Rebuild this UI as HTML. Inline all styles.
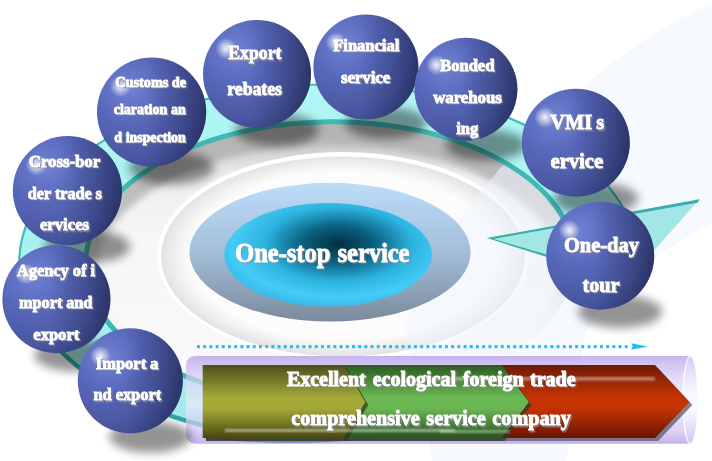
<!DOCTYPE html>
<html><head><meta charset="utf-8"><style>
html,body{margin:0;padding:0;background:#fff;}
svg{display:block;will-change:transform;}
text{font-family:"Liberation Serif",serif;font-weight:bold;fill:#fff;}
.tx{will-change:transform;}
text{stroke:#fff;stroke-width:0.85px;}
text.sh{fill:#8c8c94;stroke:#8c8c94;opacity:.75;}
</style></head><body>
<svg width="712" height="461" viewBox="0 0 712 461">
<defs>
 <radialGradient id="sph" cx="0.3" cy="0.28" r="0.9">
  <stop offset="0" stop-color="#7080d2"/>
  <stop offset="0.35" stop-color="#5868ba"/>
  <stop offset="0.7" stop-color="#4a58a2"/>
  <stop offset="0.9" stop-color="#3c4888"/>
  <stop offset="1" stop-color="#36427c"/>
 </radialGradient>
 <linearGradient id="sphd" x1="0" y1="0" x2="1" y2="0">
  <stop offset="0.45" stop-color="#141a40" stop-opacity="0"/>
  <stop offset="0.75" stop-color="#141a40" stop-opacity="0.22"/>
  <stop offset="1" stop-color="#141a40" stop-opacity="0.5"/>
 </linearGradient>
 <radialGradient id="hl" cx="0.5" cy="0.5" r="0.5">
  <stop offset="0" stop-color="#fff" stop-opacity="0.9"/>
  <stop offset="0.35" stop-color="#fff" stop-opacity="0.6"/>
  <stop offset="1" stop-color="#fff" stop-opacity="0"/>
 </radialGradient>
 <filter id="blur6" x="-50%" y="-50%" width="200%" height="200%"><feGaussianBlur stdDeviation="6"/></filter>
 <filter id="blur5" x="-50%" y="-50%" width="200%" height="200%"><feGaussianBlur stdDeviation="5"/></filter>
 <filter id="blur3" x="-50%" y="-50%" width="200%" height="200%"><feGaussianBlur stdDeviation="3"/></filter>
 <filter id="blur1" x="-20%" y="-20%" width="140%" height="140%"><feGaussianBlur stdDeviation="1.2"/></filter>
 <linearGradient id="outerEl" x1="0" y1="0" x2="0" y2="1">
  <stop offset="0" stop-color="#bcdcfa"/>
  <stop offset="0.5" stop-color="#a3bed8"/>
  <stop offset="1" stop-color="#7b8a9c"/>
 </linearGradient>
 <radialGradient id="innerEl" cx="0.55" cy="0.4" r="0.62">
  <stop offset="0" stop-color="#02303f"/>
  <stop offset="0.28" stop-color="#0b5f7f"/>
  <stop offset="0.58" stop-color="#2cb4e0"/>
  <stop offset="0.82" stop-color="#44ccf6"/>
  <stop offset="1" stop-color="#36b8e8"/>
 </radialGradient>
 <linearGradient id="olive" x1="0" y1="0" x2="0" y2="1">
  <stop offset="0" stop-color="#4c4e1c"/>
  <stop offset="0.45" stop-color="#a4aa3a"/>
  <stop offset="0.6" stop-color="#a3a838"/>
  <stop offset="1" stop-color="#48480e"/>
 </linearGradient>
 <linearGradient id="green" x1="0" y1="0" x2="0" y2="1">
  <stop offset="0" stop-color="#2c5a22"/>
  <stop offset="0.45" stop-color="#6cba54"/>
  <stop offset="0.6" stop-color="#6ab652"/>
  <stop offset="1" stop-color="#2a5420"/>
 </linearGradient>
 <linearGradient id="red" x1="0" y1="0" x2="0" y2="1">
  <stop offset="0" stop-color="#6c1a06"/>
  <stop offset="0.45" stop-color="#c83402"/>
  <stop offset="0.6" stop-color="#c43202"/>
  <stop offset="1" stop-color="#6a1404"/>
 </linearGradient>
 <linearGradient id="tube" x1="0" y1="0" x2="0" y2="1">
  <stop offset="0" stop-color="#b094e7"/>
  <stop offset="0.1" stop-color="#c2aeec"/>
  <stop offset="0.3" stop-color="#ded6f5"/>
  <stop offset="0.55" stop-color="#efecfb"/>
  <stop offset="0.85" stop-color="#cebff1"/>
  <stop offset="1" stop-color="#ae91e4"/>
 </linearGradient>
 <linearGradient id="capg" x1="0" y1="0" x2="0" y2="1">
  <stop offset="0" stop-color="#d8ccf4"/>
  <stop offset="0.4" stop-color="#f8f6fe"/>
  <stop offset="0.6" stop-color="#fbfaff"/>
  <stop offset="1" stop-color="#d4c6f2"/>
 </linearGradient>
 <linearGradient id="bandfill" x1="0" y1="0" x2="0" y2="1">
  <stop offset="0" stop-color="#b0f6f4"/>
  <stop offset="1" stop-color="#a0ebe8"/>
 </linearGradient>
 <clipPath id="ringclip">
  <path d="M0 0 H712 V440 H0 Z"/>
 </clipPath>
</defs>

<defs>
 <linearGradient id="plateg" gradientUnits="userSpaceOnUse" x1="0" y1="120" x2="0" y2="400">
  <stop offset="0" stop-color="#b8b8b8"/>
  <stop offset="0.1" stop-color="#d0d0d0"/>
  <stop offset="0.2" stop-color="#eeeeee"/>
  <stop offset="0.4" stop-color="#f6f6f6"/>
  <stop offset="1" stop-color="#fafafa"/>
 </linearGradient>
 <linearGradient id="shmask" gradientUnits="userSpaceOnUse" x1="0" y1="120" x2="0" y2="330">
  <stop offset="0" stop-color="#fff"/>
  <stop offset="0.45" stop-color="#fff" stop-opacity="0.8"/>
  <stop offset="1" stop-color="#fff" stop-opacity="0"/>
 </linearGradient>
 <mask id="shm" maskUnits="userSpaceOnUse" x="0" y="0" width="712" height="461"><rect x="0" y="0" width="712" height="461" fill="url(#shmask)"/></mask>
 <radialGradient id="bevelg" gradientUnits="userSpaceOnUse" cx="0" cy="0" r="1" gradientTransform="translate(343 256) scale(182 100)">
  <stop offset="0.84" stop-color="#fcfcfc"/>
  <stop offset="0.93" stop-color="#efefef"/>
  <stop offset="1" stop-color="#e2e2e2"/>
 </radialGradient>
</defs>
<ellipse cx="330.1" cy="262.0" rx="244.5" ry="140.3" transform="rotate(-0.66 330.1 262.0)" fill="url(#plateg)"/>
<clipPath id="inclip"><ellipse cx="330.1" cy="262.0" rx="244.5" ry="140.3" transform="rotate(-0.66 330.1 262.0)" /></clipPath>
<g clip-path="url(#inclip)" mask="url(#shm)"><g filter="url(#blur3)"><ellipse cx="327.1" cy="272.0" rx="244.5" ry="140.3" transform="rotate(-0.66 327.1 272.0)" fill="none" stroke="#b4b4b4" stroke-width="26"/></g></g>
<ellipse cx="343" cy="256" rx="186" ry="104" fill="#ffffff"/>
<ellipse cx="343" cy="256.5" rx="182" ry="100" fill="url(#bevelg)"/>
<path d="M712 4 C670 20 620 55 584 86 C540 125 500 165 470 205 C440 245 415 290 405 330 L433 461 L566 461 L585 335 C600 300 640 260 712 224 Z" fill="#eef4fb" opacity="0.55"/>
<clipPath id="bandclip"><path d="M0 0 H712 V199 L487 238 L470 300 L380 300 L380 441 L0 441 Z"/></clipPath>
<g clip-path="url(#bandclip)">
<path fill-rule="evenodd" fill="url(#bandfill)" d="M638.4 263.3 L638.2 269.5 L637.6 275.8 L636.7 282.0 L635.4 288.2 L633.7 294.3 L631.6 300.5 L629.2 306.6 L626.4 312.6 L623.2 318.6 L619.7 324.5 L615.9 330.3 L611.6 336.0 L607.1 341.7 L602.2 347.2 L596.9 352.7 L591.4 358.0 L585.5 363.3 L579.3 368.4 L572.8 373.4 L566.0 378.2 L558.9 382.9 L551.5 387.5 L543.9 391.9 L536.0 396.2 L527.8 400.3 L519.4 404.2 L510.8 408.0 L501.9 411.5 L492.9 414.9 L483.6 418.1 L474.1 421.2 L464.5 424.0 L454.7 426.6 L444.8 429.1 L434.7 431.3 L424.5 433.3 L414.1 435.2 L403.7 436.8 L393.2 438.2 L382.6 439.4 L371.9 440.4 L361.2 441.1 L350.4 441.7 L339.6 442.0 L328.8 442.1 L318.0 442.0 L307.2 441.7 L296.4 441.1 L285.7 440.4 L275.0 439.4 L264.4 438.2 L253.9 436.8 L243.5 435.2 L233.1 433.3 L222.9 431.3 L212.8 429.1 L202.9 426.6 L193.1 424.0 L183.5 421.2 L174.0 418.1 L164.7 414.9 L155.7 411.5 L146.8 408.0 L138.2 404.2 L129.8 400.3 L121.6 396.2 L113.7 391.9 L106.1 387.5 L98.7 382.9 L91.6 378.2 L84.8 373.4 L78.3 368.4 L72.1 363.3 L66.2 358.0 L60.7 352.7 L55.4 347.2 L50.5 341.7 L46.0 336.0 L41.7 330.3 L37.9 324.5 L34.4 318.6 L31.2 312.6 L28.4 306.6 L26.0 300.5 L23.9 294.3 L22.2 288.2 L20.9 282.0 L20.0 275.8 L19.4 269.5 L19.2 263.3 L19.4 257.1 L20.0 250.8 L20.9 244.6 L22.2 238.4 L23.9 232.3 L26.0 226.1 L28.4 220.0 L31.2 214.0 L34.4 208.0 L37.9 202.1 L41.7 196.3 L46.0 190.6 L50.5 184.9 L55.4 179.4 L60.7 173.9 L66.2 168.6 L72.1 163.3 L78.3 158.2 L84.8 153.2 L91.6 148.4 L98.7 143.7 L106.1 139.1 L113.7 134.7 L121.6 130.4 L129.8 126.3 L138.2 122.4 L146.8 118.6 L155.7 115.1 L164.7 111.7 L174.0 108.5 L183.5 105.4 L193.1 102.6 L202.9 100.0 L212.8 97.5 L222.9 95.3 L233.1 93.3 L243.5 91.4 L253.9 89.8 L264.4 88.4 L275.0 87.2 L285.7 86.2 L296.4 85.5 L307.2 84.9 L318.0 84.6 L328.8 84.5 L339.6 84.6 L350.4 84.9 L361.2 85.5 L371.9 86.2 L382.6 87.2 L393.2 88.4 L403.7 89.8 L414.1 91.4 L424.5 93.3 L434.7 95.3 L444.8 97.5 L454.7 100.0 L464.5 102.6 L474.1 105.4 L483.6 108.5 L492.9 111.7 L501.9 115.1 L510.8 118.6 L519.4 122.4 L527.8 126.3 L536.0 130.4 L543.9 134.7 L551.5 139.1 L558.9 143.7 L566.0 148.4 L572.8 153.2 L579.3 158.2 L585.5 163.3 L591.4 168.6 L596.9 173.9 L602.2 179.4 L607.1 184.9 L611.6 190.6 L615.9 196.3 L619.7 202.1 L623.2 208.0 L626.4 214.0 L629.2 220.0 L631.6 226.1 L633.7 232.3 L635.4 238.4 L636.7 244.6 L637.6 250.8 L638.2 257.1 Z M574.6 259.2 L574.5 264.1 L574.1 269.0 L573.4 273.9 L572.4 278.7 L571.2 283.6 L569.6 288.4 L567.7 293.2 L565.6 298.0 L563.1 302.7 L560.4 307.3 L557.4 311.9 L554.1 316.5 L550.5 321.0 L546.7 325.4 L542.6 329.7 L538.3 334.0 L533.7 338.1 L528.8 342.2 L523.8 346.2 L518.4 350.0 L512.9 353.8 L507.1 357.4 L501.1 361.0 L494.9 364.4 L488.5 367.7 L481.9 370.8 L475.1 373.8 L468.2 376.7 L461.0 379.5 L453.7 382.1 L446.3 384.5 L438.7 386.9 L431.0 389.0 L423.2 391.0 L415.2 392.9 L407.2 394.6 L399.0 396.1 L390.8 397.4 L382.5 398.6 L374.1 399.7 L365.7 400.5 L357.3 401.2 L348.8 401.8 L340.2 402.1 L331.7 402.3 L323.2 402.3 L314.7 402.1 L306.2 401.8 L297.7 401.3 L289.2 400.6 L280.8 399.8 L272.5 398.8 L264.3 397.6 L256.1 396.3 L248.0 394.8 L240.0 393.1 L232.1 391.3 L224.4 389.3 L216.7 387.2 L209.3 384.9 L201.9 382.5 L194.7 379.9 L187.7 377.2 L180.9 374.3 L174.2 371.3 L167.7 368.1 L161.4 364.9 L155.4 361.5 L149.5 358.0 L143.9 354.3 L138.4 350.6 L133.3 346.7 L128.3 342.8 L123.6 338.7 L119.2 334.6 L115.0 330.3 L111.1 326.0 L107.4 321.6 L104.0 317.2 L100.9 312.6 L98.1 308.0 L95.5 303.4 L93.3 298.7 L91.3 293.9 L89.6 289.1 L88.2 284.3 L87.1 279.5 L86.3 274.6 L85.8 269.7 L85.6 264.8 L85.7 259.9 L86.1 255.0 L86.8 250.1 L87.8 245.3 L89.0 240.4 L90.6 235.6 L92.5 230.8 L94.6 226.0 L97.1 221.3 L99.8 216.7 L102.8 212.1 L106.1 207.5 L109.7 203.0 L113.5 198.6 L117.6 194.3 L121.9 190.0 L126.5 185.9 L131.4 181.8 L136.4 177.8 L141.8 174.0 L147.3 170.2 L153.1 166.6 L159.1 163.0 L165.3 159.6 L171.7 156.3 L178.3 153.2 L185.1 150.2 L192.0 147.3 L199.2 144.5 L206.5 141.9 L213.9 139.5 L221.5 137.1 L229.2 135.0 L237.0 133.0 L245.0 131.1 L253.0 129.4 L261.2 127.9 L269.4 126.6 L277.7 125.4 L286.1 124.3 L294.5 123.5 L302.9 122.8 L311.4 122.2 L320.0 121.9 L328.5 121.7 L337.0 121.7 L345.5 121.9 L354.0 122.2 L362.5 122.7 L371.0 123.4 L379.4 124.2 L387.7 125.2 L395.9 126.4 L404.1 127.7 L412.2 129.2 L420.2 130.9 L428.1 132.7 L435.8 134.7 L443.5 136.8 L450.9 139.1 L458.3 141.5 L465.5 144.1 L472.5 146.8 L479.3 149.7 L486.0 152.7 L492.5 155.9 L498.8 159.1 L504.8 162.5 L510.7 166.0 L516.3 169.7 L521.8 173.4 L526.9 177.3 L531.9 181.2 L536.6 185.3 L541.0 189.4 L545.2 193.7 L549.1 198.0 L552.8 202.4 L556.2 206.8 L559.3 211.4 L562.1 216.0 L564.7 220.6 L566.9 225.3 L568.9 230.1 L570.6 234.9 L572.0 239.7 L573.1 244.5 L573.9 249.4 L574.4 254.3 Z"/>
<ellipse cx="328.8" cy="263.3" rx="309.6" ry="178.8" transform="rotate(0.0 328.8 263.3)" fill="none" stroke="#3fbcb8" stroke-width="2.2"/>
<clipPath id="lowclip"><rect x="0" y="300" width="712" height="161"/></clipPath>
<g clip-path="url(#lowclip)"><ellipse cx="328.8" cy="263.3" rx="308.0" ry="177.20000000000002" transform="rotate(0.0 328.8 263.3)" fill="none" stroke="#2fa8a0" stroke-width="3.5"/></g>
<ellipse cx="330.1" cy="262.0" rx="244.5" ry="140.3" transform="rotate(-0.66 330.1 262.0)" fill="none" stroke="#3db8b2" stroke-width="5"/>
</g>
<path d="M487 238 L699.6 199.2 L626 282 Z" fill="#a3e6e6"/>
<path d="M487 238 L699.6 199.2 L697.5 202.8 L493 239 Z" fill="#3aaea8"/>
<path d="M487 238 L492 238.5 L630 279 L626 282 Z" fill="#3aaea8"/>
<ellipse cx="330" cy="252.2" rx="140.6" ry="69.4" fill="url(#outerEl)"/>
<ellipse cx="328.1" cy="254.8" rx="103.8" ry="51.8" fill="url(#innerEl)"/>
<text x="236.49" y="262.90" font-size="27" textLength="95.14" lengthAdjust="spacingAndGlyphs" class="st sh">One-stop</text><text x="338.81" y="262.90" font-size="27" textLength="71.98" lengthAdjust="spacingAndGlyphs" class="st sh">service</text><text x="235.19" y="261.60" font-size="27" textLength="95.14" lengthAdjust="spacingAndGlyphs" class="st">One-stop</text><text x="337.51" y="261.60" font-size="27" textLength="71.98" lengthAdjust="spacingAndGlyphs" class="st">service</text>
<g fill="#1fbdf4"><rect x="197.0" y="345.1" width="2.9" height="3.1"/><rect x="203.2" y="345.1" width="2.9" height="3.1"/><rect x="209.4" y="345.1" width="2.9" height="3.1"/><rect x="215.6" y="345.1" width="2.9" height="3.1"/><rect x="221.8" y="345.1" width="2.9" height="3.1"/><rect x="228.0" y="345.1" width="2.9" height="3.1"/><rect x="234.2" y="345.1" width="2.9" height="3.1"/><rect x="240.4" y="345.1" width="2.9" height="3.1"/><rect x="246.6" y="345.1" width="2.9" height="3.1"/><rect x="252.8" y="345.1" width="2.9" height="3.1"/><rect x="259.0" y="345.1" width="2.9" height="3.1"/><rect x="265.2" y="345.1" width="2.9" height="3.1"/><rect x="271.4" y="345.1" width="2.9" height="3.1"/><rect x="277.6" y="345.1" width="2.9" height="3.1"/><rect x="283.8" y="345.1" width="2.9" height="3.1"/><rect x="290.0" y="345.1" width="2.9" height="3.1"/><rect x="296.2" y="345.1" width="2.9" height="3.1"/><rect x="302.4" y="345.1" width="2.9" height="3.1"/><rect x="308.6" y="345.1" width="2.9" height="3.1"/><rect x="314.8" y="345.1" width="2.9" height="3.1"/><rect x="321.0" y="345.1" width="2.9" height="3.1"/><rect x="327.2" y="345.1" width="2.9" height="3.1"/><rect x="333.4" y="345.1" width="2.9" height="3.1"/><rect x="339.6" y="345.1" width="2.9" height="3.1"/><rect x="345.8" y="345.1" width="2.9" height="3.1"/><rect x="352.0" y="345.1" width="2.9" height="3.1"/><rect x="358.2" y="345.1" width="2.9" height="3.1"/><rect x="364.4" y="345.1" width="2.9" height="3.1"/><rect x="370.6" y="345.1" width="2.9" height="3.1"/><rect x="376.8" y="345.1" width="2.9" height="3.1"/><rect x="383.0" y="345.1" width="2.9" height="3.1"/><rect x="389.2" y="345.1" width="2.9" height="3.1"/><rect x="395.4" y="345.1" width="2.9" height="3.1"/><rect x="401.6" y="345.1" width="2.9" height="3.1"/><rect x="407.8" y="345.1" width="2.9" height="3.1"/><rect x="414.0" y="345.1" width="2.9" height="3.1"/><rect x="420.2" y="345.1" width="2.9" height="3.1"/><rect x="426.4" y="345.1" width="2.9" height="3.1"/><rect x="432.6" y="345.1" width="2.9" height="3.1"/><rect x="438.8" y="345.1" width="2.9" height="3.1"/><rect x="445.0" y="345.1" width="2.9" height="3.1"/><rect x="451.2" y="345.1" width="2.9" height="3.1"/><rect x="457.4" y="345.1" width="2.9" height="3.1"/><rect x="463.6" y="345.1" width="2.9" height="3.1"/><rect x="469.8" y="345.1" width="2.9" height="3.1"/><rect x="476.0" y="345.1" width="2.9" height="3.1"/><rect x="482.2" y="345.1" width="2.9" height="3.1"/><rect x="488.4" y="345.1" width="2.9" height="3.1"/><rect x="494.6" y="345.1" width="2.9" height="3.1"/><rect x="500.8" y="345.1" width="2.9" height="3.1"/><rect x="507.0" y="345.1" width="2.9" height="3.1"/><rect x="513.2" y="345.1" width="2.9" height="3.1"/><rect x="519.4" y="345.1" width="2.9" height="3.1"/><rect x="525.6" y="345.1" width="2.9" height="3.1"/><rect x="531.8" y="345.1" width="2.9" height="3.1"/><rect x="538.0" y="345.1" width="2.9" height="3.1"/><rect x="544.2" y="345.1" width="2.9" height="3.1"/><rect x="550.4" y="345.1" width="2.9" height="3.1"/><rect x="556.6" y="345.1" width="2.9" height="3.1"/><rect x="562.8" y="345.1" width="2.9" height="3.1"/><rect x="569.0" y="345.1" width="2.9" height="3.1"/><rect x="575.2" y="345.1" width="2.9" height="3.1"/><rect x="581.4" y="345.1" width="2.9" height="3.1"/><rect x="587.6" y="345.1" width="2.9" height="3.1"/><rect x="593.8" y="345.1" width="2.9" height="3.1"/><rect x="600.0" y="345.1" width="2.9" height="3.1"/><rect x="606.2" y="345.1" width="2.9" height="3.1"/><rect x="612.4" y="345.1" width="2.9" height="3.1"/><rect x="618.6" y="345.1" width="2.9" height="3.1"/><rect x="624.8" y="345.1" width="2.9" height="3.1"/><path d="M631 343.3 Q634 346.5 631 349.7 L648 346.5 Z"/></g>
<path d="M196 356 L690.5 356 L690.5 443.7 L196 443.7 Q186 443.7 186 433 L186 366 Q186 356 196 356 Z" fill="url(#tube)" fill-opacity="0.7"/>
<ellipse cx="690.5" cy="400" rx="7.5" ry="44" fill="url(#capg)" stroke="#ffffff" stroke-width="1.2"/>
<path d="M204 436 L376 436 L376 438 Q290 448 204 438 Z" fill="#6f8cc4"/>
<g transform="translate(3,3)" fill="#5a5a66" opacity="0.75"><path d="M203 365 L655 365 L689.4 401.9 L655 438 L203 438 Z" fill="#5a5a66"/></g>
<path d="M490 365 L655 365 L689.4 401.9 L655 438 L490 438 Z" fill="url(#red)"/>
<g transform="translate(3,3)" opacity="0.7"><path d="M340 365 L501.5 365 L528.8 401.9 L501.5 438 L340 438 Z" fill="#2a3a20"/></g>
<path d="M340 365 L501.5 365 L528.8 401.9 L501.5 438 L340 438 Z" fill="url(#green)"/>
<g transform="translate(3,3)" opacity="0.7"><path d="M203 365 L343.7 365 L365.2 401.9 L343.7 438 L203 438 Z" fill="#303418"/></g>
<path d="M202.7 365 L343.7 365 L365.2 401.9 L343.7 438 L202.7 438 Z" fill="url(#olive)"/>
<rect x="425" y="377" width="230" height="3.5" fill="#fff" opacity="0.42" filter="url(#blur1)"/>
<rect x="225" y="429" width="230" height="3" fill="#fff" opacity="0.45" filter="url(#blur1)"/>
<rect x="440" y="430" width="70" height="3" fill="#fff" opacity="0.35" filter="url(#blur1)"/>
<text x="288.20" y="387.10" font-size="20" textLength="78.89" lengthAdjust="spacingAndGlyphs" class="bt sh">Excellent</text><text x="373.93" y="387.10" font-size="20" textLength="83.33" lengthAdjust="spacingAndGlyphs" class="bt sh">ecological</text><text x="464.20" y="387.10" font-size="20" textLength="60.75" lengthAdjust="spacingAndGlyphs" class="bt sh">foreign</text><text x="531.33" y="387.10" font-size="20" textLength="45.55" lengthAdjust="spacingAndGlyphs" class="bt sh">trade</text><text x="286.90" y="385.80" font-size="20" textLength="78.89" lengthAdjust="spacingAndGlyphs" class="bt">Excellent</text><text x="372.63" y="385.80" font-size="20" textLength="83.33" lengthAdjust="spacingAndGlyphs" class="bt">ecological</text><text x="462.90" y="385.80" font-size="20" textLength="60.75" lengthAdjust="spacingAndGlyphs" class="bt">foreign</text><text x="530.03" y="385.80" font-size="20" textLength="45.55" lengthAdjust="spacingAndGlyphs" class="bt">trade</text>
<text x="292.60" y="426.50" font-size="20" textLength="128.47" lengthAdjust="spacingAndGlyphs" class="bt sh">comprehensive</text><text x="427.69" y="426.50" font-size="20" textLength="59.34" lengthAdjust="spacingAndGlyphs" class="bt sh">service</text><text x="493.66" y="426.50" font-size="20" textLength="78.44" lengthAdjust="spacingAndGlyphs" class="bt sh">company</text><text x="291.30" y="425.20" font-size="20" textLength="128.47" lengthAdjust="spacingAndGlyphs" class="bt">comprehensive</text><text x="426.39" y="425.20" font-size="20" textLength="59.34" lengthAdjust="spacingAndGlyphs" class="bt">service</text><text x="492.36" y="425.20" font-size="20" textLength="78.44" lengthAdjust="spacingAndGlyphs" class="bt">company</text>
<ellipse cx="150.3" cy="436.8" rx="41.0" ry="15.8" fill="#000" opacity="0.42" filter="url(#blur5)"/>
<ellipse cx="76.4" cy="355.2" rx="42.1" ry="16.2" fill="#000" opacity="0.42" filter="url(#blur5)"/>
<ellipse cx="87.4" cy="246.6" rx="42.6" ry="16.4" fill="#000" opacity="0.42" filter="url(#blur5)"/>
<ellipse cx="171.6" cy="168.0" rx="42.6" ry="16.4" fill="#000" opacity="0.42" filter="url(#blur5)"/>
<ellipse cx="277.0" cy="129.9" rx="42.1" ry="16.2" fill="#000" opacity="0.42" filter="url(#blur5)"/>
<ellipse cx="385.9" cy="123.0" rx="41.0" ry="15.8" fill="#000" opacity="0.42" filter="url(#blur5)"/>
<ellipse cx="485.9" cy="145.2" rx="40.2" ry="15.4" fill="#000" opacity="0.42" filter="url(#blur5)"/>
<ellipse cx="595.8" cy="198.7" rx="42.1" ry="16.2" fill="#000" opacity="0.42" filter="url(#blur5)"/>
<ellipse cx="620.2" cy="311.7" rx="42.1" ry="16.2" fill="#000" opacity="0.42" filter="url(#blur5)"/>
<circle cx="130.3" cy="380.8" r="52.5" fill="url(#sph)"/>
<circle cx="130.3" cy="380.8" r="52.5" fill="url(#sphd)"/>
<circle cx="100.4" cy="356.1" r="10.5" fill="url(#hl)"/>
<text x="97.10" y="370.30" font-size="17.5" textLength="50.34" lengthAdjust="spacingAndGlyphs" class="st sh">Import</text><text x="151.33" y="370.30" font-size="17.5" textLength="8.24" lengthAdjust="spacingAndGlyphs" class="st sh">a</text><text x="95.80" y="369.00" font-size="17.5" textLength="50.34" lengthAdjust="spacingAndGlyphs" class="st">Import</text><text x="150.03" y="369.00" font-size="17.5" textLength="8.24" lengthAdjust="spacingAndGlyphs" class="st">a</text>
<text x="94.70" y="401.60" font-size="17.5" textLength="18.27" lengthAdjust="spacingAndGlyphs" class="st sh">nd</text><text x="116.94" y="401.60" font-size="17.5" textLength="45.60" lengthAdjust="spacingAndGlyphs" class="st sh">export</text><text x="93.40" y="400.30" font-size="17.5" textLength="18.27" lengthAdjust="spacingAndGlyphs" class="st">nd</text><text x="115.64" y="400.30" font-size="17.5" textLength="45.60" lengthAdjust="spacingAndGlyphs" class="st">export</text>
<circle cx="56.4" cy="299.2" r="54.0" fill="url(#sph)"/>
<circle cx="56.4" cy="299.2" r="54.0" fill="url(#sphd)"/>
<circle cx="25.6" cy="273.8" r="10.8" fill="url(#hl)"/>
<text x="18.40" y="276.80" font-size="17" textLength="51.67" lengthAdjust="spacingAndGlyphs" class="st sh">Agency</text><text x="74.17" y="276.80" font-size="17" textLength="13.60" lengthAdjust="spacingAndGlyphs" class="st sh">of</text><text x="91.70" y="276.80" font-size="17" textLength="4.53" lengthAdjust="spacingAndGlyphs" class="st sh">i</text><text x="17.10" y="275.50" font-size="17" textLength="51.67" lengthAdjust="spacingAndGlyphs" class="st">Agency</text><text x="72.87" y="275.50" font-size="17" textLength="13.60" lengthAdjust="spacingAndGlyphs" class="st">of</text><text x="90.40" y="275.50" font-size="17" textLength="4.53" lengthAdjust="spacingAndGlyphs" class="st">i</text>
<text x="20.40" y="309.40" font-size="17" textLength="43.21" lengthAdjust="spacingAndGlyphs" class="st sh">mport</text><text x="67.55" y="309.40" font-size="17" textLength="26.13" lengthAdjust="spacingAndGlyphs" class="st sh">and</text><text x="19.10" y="308.10" font-size="17" textLength="43.21" lengthAdjust="spacingAndGlyphs" class="st">mport</text><text x="66.25" y="308.10" font-size="17" textLength="26.13" lengthAdjust="spacingAndGlyphs" class="st">and</text>
<text x="34.60" y="341.30" font-size="17" textLength="45.97" lengthAdjust="spacingAndGlyphs" class="st sh">export</text><text x="33.30" y="340.00" font-size="17" textLength="45.97" lengthAdjust="spacingAndGlyphs" class="st">export</text>
<circle cx="67.4" cy="190.6" r="54.6" fill="url(#sph)"/>
<circle cx="67.4" cy="190.6" r="54.6" fill="url(#sphd)"/>
<circle cx="36.3" cy="164.9" r="10.9" fill="url(#hl)"/>
<text x="30.10" y="167.90" font-size="17.5" textLength="71.38" lengthAdjust="spacingAndGlyphs" class="st sh">Cross-bor</text><text x="28.80" y="166.60" font-size="17.5" textLength="71.38" lengthAdjust="spacingAndGlyphs" class="st">Cross-bor</text>
<text x="29.10" y="200.10" font-size="17.5" textLength="23.24" lengthAdjust="spacingAndGlyphs" class="st sh">der</text><text x="56.28" y="200.10" font-size="17.5" textLength="36.65" lengthAdjust="spacingAndGlyphs" class="st sh">trade</text><text x="96.86" y="200.10" font-size="17.5" textLength="6.26" lengthAdjust="spacingAndGlyphs" class="st sh">s</text><text x="27.80" y="198.80" font-size="17.5" textLength="23.24" lengthAdjust="spacingAndGlyphs" class="st">der</text><text x="54.98" y="198.80" font-size="17.5" textLength="36.65" lengthAdjust="spacingAndGlyphs" class="st">trade</text><text x="95.56" y="198.80" font-size="17.5" textLength="6.26" lengthAdjust="spacingAndGlyphs" class="st">s</text>
<text x="41.20" y="231.70" font-size="17.5" textLength="49.22" lengthAdjust="spacingAndGlyphs" class="st sh">ervices</text><text x="39.90" y="230.40" font-size="17.5" textLength="49.22" lengthAdjust="spacingAndGlyphs" class="st">ervices</text>
<circle cx="151.6" cy="112.0" r="54.6" fill="url(#sph)"/>
<circle cx="151.6" cy="112.0" r="54.6" fill="url(#sphd)"/>
<circle cx="120.5" cy="86.3" r="10.9" fill="url(#hl)"/>
<text x="116.50" y="87.80" font-size="15" textLength="53.15" lengthAdjust="spacingAndGlyphs" class="st sh">Customs</text><text x="173.00" y="87.80" font-size="15" textLength="14.28" lengthAdjust="spacingAndGlyphs" class="st sh">de</text><text x="115.20" y="86.50" font-size="15" textLength="53.15" lengthAdjust="spacingAndGlyphs" class="st">Customs</text><text x="171.70" y="86.50" font-size="15" textLength="14.28" lengthAdjust="spacingAndGlyphs" class="st">de</text>
<text x="115.10" y="115.00" font-size="15" textLength="53.38" lengthAdjust="spacingAndGlyphs" class="st sh">claration</text><text x="172.28" y="115.00" font-size="15" textLength="14.71" lengthAdjust="spacingAndGlyphs" class="st sh">an</text><text x="113.80" y="113.70" font-size="15" textLength="53.38" lengthAdjust="spacingAndGlyphs" class="st">claration</text><text x="170.98" y="113.70" font-size="15" textLength="14.71" lengthAdjust="spacingAndGlyphs" class="st">an</text>
<text x="115.60" y="142.80" font-size="15" textLength="7.69" lengthAdjust="spacingAndGlyphs" class="st sh">d</text><text x="127.08" y="142.80" font-size="15" textLength="59.91" lengthAdjust="spacingAndGlyphs" class="st sh">inspection</text><text x="114.30" y="141.50" font-size="15" textLength="7.69" lengthAdjust="spacingAndGlyphs" class="st">d</text><text x="125.78" y="141.50" font-size="15" textLength="59.91" lengthAdjust="spacingAndGlyphs" class="st">inspection</text>
<circle cx="257.0" cy="73.9" r="54.0" fill="url(#sph)"/>
<circle cx="257.0" cy="73.9" r="54.0" fill="url(#sphd)"/>
<circle cx="226.2" cy="48.5" r="10.8" fill="url(#hl)"/>
<text x="229.60" y="60.60" font-size="19.5" textLength="53.14" lengthAdjust="spacingAndGlyphs" class="st sh">Export</text><text x="228.30" y="59.30" font-size="19.5" textLength="53.14" lengthAdjust="spacingAndGlyphs" class="st">Export</text>
<text x="228.60" y="96.30" font-size="19.5" textLength="54.53" lengthAdjust="spacingAndGlyphs" class="st sh">rebates</text><text x="227.30" y="95.00" font-size="19.5" textLength="54.53" lengthAdjust="spacingAndGlyphs" class="st">rebates</text>
<circle cx="365.9" cy="67.0" r="52.5" fill="url(#sph)"/>
<circle cx="365.9" cy="67.0" r="52.5" fill="url(#sphd)"/>
<circle cx="336.0" cy="42.3" r="10.5" fill="url(#hl)"/>
<text x="334.60" y="51.80" font-size="17" textLength="65.93" lengthAdjust="spacingAndGlyphs" class="st sh">Financial</text><text x="333.30" y="50.50" font-size="17" textLength="65.93" lengthAdjust="spacingAndGlyphs" class="st">Financial</text>
<text x="342.20" y="84.00" font-size="17" textLength="49.35" lengthAdjust="spacingAndGlyphs" class="st sh">service</text><text x="340.90" y="82.70" font-size="17" textLength="49.35" lengthAdjust="spacingAndGlyphs" class="st">service</text>
<circle cx="465.9" cy="89.2" r="51.5" fill="url(#sph)"/>
<circle cx="465.9" cy="89.2" r="51.5" fill="url(#sphd)"/>
<circle cx="436.5" cy="65.0" r="10.3" fill="url(#hl)"/>
<text x="441.50" y="72.40" font-size="17" textLength="54.17" lengthAdjust="spacingAndGlyphs" class="st sh">Bonded</text><text x="440.20" y="71.10" font-size="17" textLength="54.17" lengthAdjust="spacingAndGlyphs" class="st">Bonded</text>
<text x="434.50" y="104.40" font-size="17" textLength="68.52" lengthAdjust="spacingAndGlyphs" class="st sh">warehous</text><text x="433.20" y="103.10" font-size="17" textLength="68.52" lengthAdjust="spacingAndGlyphs" class="st">warehous</text>
<text x="457.50" y="135.60" font-size="17" textLength="22.01" lengthAdjust="spacingAndGlyphs" class="st sh">ing</text><text x="456.20" y="134.30" font-size="17" textLength="22.01" lengthAdjust="spacingAndGlyphs" class="st">ing</text>
<circle cx="575.8" cy="142.7" r="54.0" fill="url(#sph)"/>
<circle cx="575.8" cy="142.7" r="54.0" fill="url(#sphd)"/>
<circle cx="545.0" cy="117.3" r="10.8" fill="url(#hl)"/>
<text x="551.60" y="130.50" font-size="21" textLength="41.76" lengthAdjust="spacingAndGlyphs" class="st sh">VMI</text><text x="597.66" y="130.50" font-size="21" textLength="7.91" lengthAdjust="spacingAndGlyphs" class="st sh">s</text><text x="550.30" y="129.20" font-size="21" textLength="41.76" lengthAdjust="spacingAndGlyphs" class="st">VMI</text><text x="596.36" y="129.20" font-size="21" textLength="7.91" lengthAdjust="spacingAndGlyphs" class="st">s</text>
<text x="551.90" y="169.30" font-size="21" textLength="52.41" lengthAdjust="spacingAndGlyphs" class="st sh">ervice</text><text x="550.60" y="168.00" font-size="21" textLength="52.41" lengthAdjust="spacingAndGlyphs" class="st">ervice</text>
<circle cx="600.2" cy="255.7" r="54.0" fill="url(#sph)"/>
<circle cx="600.2" cy="255.7" r="54.0" fill="url(#sphd)"/>
<circle cx="569.4" cy="230.3" r="10.8" fill="url(#hl)"/>
<text x="565.27" y="253.20" font-size="22" textLength="74.93" lengthAdjust="spacingAndGlyphs" class="st sh">One-day</text><text x="563.97" y="251.90" font-size="22" textLength="74.93" lengthAdjust="spacingAndGlyphs" class="st">One-day</text>
<text x="583.80" y="293.10" font-size="22" textLength="37.08" lengthAdjust="spacingAndGlyphs" class="st sh">tour</text><text x="582.50" y="291.80" font-size="22" textLength="37.08" lengthAdjust="spacingAndGlyphs" class="st">tour</text>
</svg></body></html>
